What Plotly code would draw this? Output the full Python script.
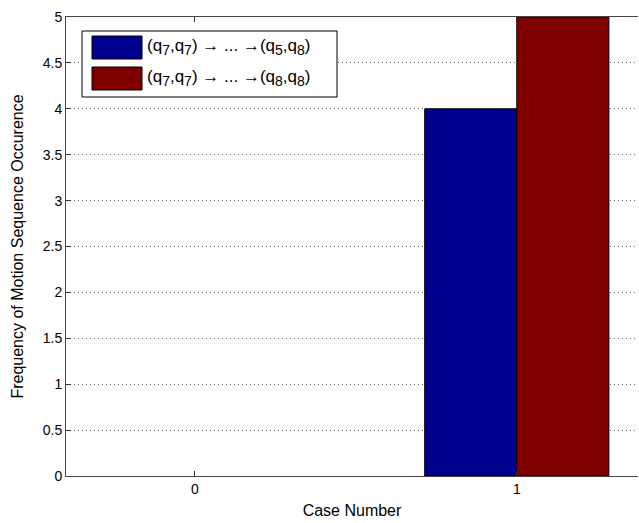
import plotly.graph_objects as go

cases = [0, 1]
seq_q5q8 = [0, 4]
seq_q8q8 = [0, 5]
series_names = ["(q<sub>7</sub>,q<sub>7</sub>) \u2192 ... \u2192(q<sub>5</sub>,q<sub>8</sub>)",
                "(q<sub>7</sub>,q<sub>7</sub>) \u2192 ... \u2192(q<sub>8</sub>,q<sub>8</sub>)"]
colors = ["#00008F", "#7F0000"]
y_ticks = [0, 0.5, 1, 1.5, 2, 2.5, 3, 3.5, 4, 4.5, 5]

W, H = 639, 523
L, R, T, B = 66, 638, 17, 476

def px(x):
    return (x - L) / (R - L)

def py(y):
    return (B - y) / (B - T)

def legend_text(name):
    # enlarge subscripts a bit, like the reference
    return name.replace("<sub>", "<sub><span style='font-size:14px'>").replace("</sub>", "</span></sub>")

fig = go.Figure()
for vals, name, c in zip([seq_q5q8, seq_q8q8], series_names, colors):
    fig.add_trace(go.Bar(x=cases, y=vals, name=name,
                         marker=dict(color=c, line=dict(color="black", width=[1 if v > 0 else 0 for v in vals])),
                         showlegend=False))

font = dict(family="Liberation Sans, Arial, sans-serif", size=14, color="black")
fig.update_layout(
    width=W, height=H,
    margin=dict(l=L, r=W - R, t=T, b=H - B),
    paper_bgcolor="white", plot_bgcolor="white",
    barmode="group", bargap=0.428, bargroupgap=0,
    font=font,
    xaxis=dict(range=[-0.4, -0.4 + (R - L) / 322.0], tickvals=cases, ticktext=[str(c) for c in cases],
               ticks="inside", ticklen=5, tickcolor="#333", showline=True, linecolor="#444", linewidth=1,
               mirror="ticks", showgrid=False, zeroline=False, tickfont=dict(size=14),
               title=dict(text="Case Number", font=dict(size=16), standoff=9)),
    yaxis=dict(range=[0, 5], tickvals=y_ticks, ticktext=[f"{v:g}" for v in y_ticks],
               ticks="inside", ticklen=5, tickcolor="#333", showline=True, linecolor="#444", linewidth=1,
               showgrid=True, gridcolor="#666", griddash="1px,3px", gridwidth=1, zeroline=False,
               tickfont=dict(size=14),
               title=dict(text="Frequency of Motion Sequence Occurence", font=dict(size=16), standoff=15)),
)

# legend box
shapes = [dict(type="rect", xref="paper", yref="paper", x0=px(82), x1=px(337), y0=py(97), y1=py(31),
               line=dict(color="black", width=1), fillcolor="white", layer="above")]
patch_rows = [(36, 59), (67, 90)]
annotations = []
for (y0, y1), name, c in zip(patch_rows, series_names, colors):
    shapes.append(dict(type="rect", xref="paper", yref="paper", x0=px(92), x1=px(142), y0=py(y1), y1=py(y0),
                       line=dict(color="black", width=1), fillcolor=c, layer="above"))
    annotations.append(dict(xref="paper", yref="paper", x=px(145), y=py((y0 + y1) / 2), text=legend_text(name),
                            showarrow=False, xanchor="left", yanchor="middle", font=dict(size=17)))
fig.update_layout(shapes=shapes, annotations=annotations)

fig.write_html("out.html")
